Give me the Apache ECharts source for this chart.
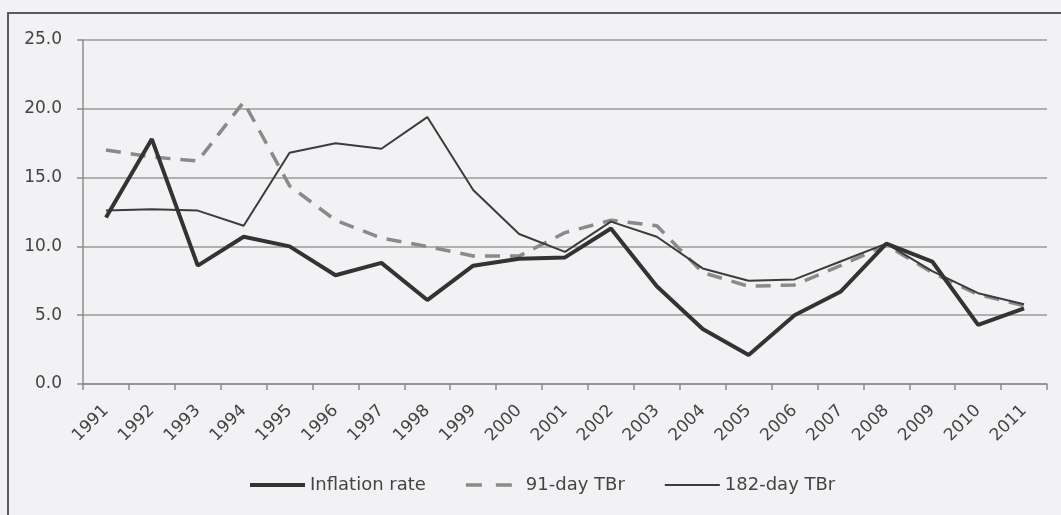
<!DOCTYPE html>
<html>
<head>
<meta charset="utf-8">
<script src="https://cdn.jsdelivr.net/npm/echarts@6/dist/echarts.min.js"></script>
<style>
  html, body { margin: 0; padding: 0; background: #f2f2f4; }
  #chart { width: 1061px; height: 515px; }
</style>
</head>
<body>
<div id="chart"></div>
<script>
// Years on the horizontal axis
const years = ['1991','1992','1993','1994','1995','1996','1997','1998','1999','2000',
               '2001','2002','2003','2004','2005','2006','2007','2008','2009','2010','2011'];

// Annual inflation rate (%)
const inflationRate = [12.1, 17.8, 8.6, 10.7, 10.0, 7.9, 8.8, 6.1, 8.6, 9.1,
                       9.2, 11.3, 7.1, 4.0, 2.1, 5.0, 6.7, 10.2, 8.9, 4.3, 5.5];

// 91-day Treasury bill rate (%)
const tbr91 = [17.0, 16.5, 16.2, 20.5, 14.4, 11.9, 10.6, 10.0, 9.3, 9.3,
               11.0, 11.9, 11.5, 8.1, 7.1, 7.2, 8.6, 10.1, 8.1, 6.5, 5.7];

// 182-day Treasury bill rate (%)
const tbr182 = [12.6, 12.7, 12.6, 11.5, 16.8, 17.5, 17.1, 19.4, 14.1, 10.9,
                9.6, 11.8, 10.7, 8.4, 7.5, 7.6, 8.9, 10.2, 8.2, 6.6, 5.8];

const seriesNames = ['Inflation rate', '91-day TBr', '182-day TBr'];

const textColor = '#444';
const fontFamily = '"DejaVu Sans", sans-serif';

// Legend keys: a 55x12 box (two zero-area corner points pin the box size)
const keyBox = 'M0,0L0.01,0ZM55,12L55.01,12Z';
const legendIcons = {
  'Inflation rate': 'path://' + keyBox + 'M0,4H55V8H0Z',
  '91-day TBr': 'path://' + keyBox + 'M0,4.25H16V7.75H0ZM30,4.25H46V7.75H30Z',
  '182-day TBr': 'path://' + keyBox + 'M0,5H55V7H0Z'
};

const chart = echarts.init(document.getElementById('chart'), null, { renderer: 'canvas' });

chart.setOption({
  backgroundColor: '#f2f2f4',
  animation: false,
  textStyle: { fontFamily: fontFamily, color: textColor },
  graphic: [{
    // frame around the chart area
    type: 'rect',
    silent: true,
    z: -1,
    shape: { x: 8, y: 13, width: 1120, height: 560 },
    style: { fill: 'none', stroke: '#5a5a5a', lineWidth: 2 }
  }],
  grid: { left: 83, right: 14, top: 40, bottom: 131, containLabel: false },
  legend: {
    data: seriesNames.map(n => ({ name: n, icon: legendIcons[n] })),
    top: 476,
    left: 250,
    padding: 0,
    itemWidth: 55,
    itemHeight: 12,
    itemGap: 40,
    itemStyle: { borderWidth: 0 },
    textStyle: { fontSize: 18, color: textColor, fontFamily: fontFamily }
  },
  xAxis: {
    type: 'category',
    data: years,
    boundaryGap: true,
    axisLine: { lineStyle: { color: '#8c8c8c', width: 1.5 } },
    axisTick: { show: true, interval: 0, length: 6, lineStyle: { color: '#8c8c8c', width: 1.5 } },
    axisLabel: { interval: 0, rotate: 45, margin: 24, fontSize: 17, color: textColor, fontFamily: fontFamily },
    splitLine: { show: false }
  },
  yAxis: {
    type: 'value',
    min: 0,
    max: 25,
    interval: 5,
    axisLine: { show: true, lineStyle: { color: '#8c8c8c', width: 1.5 } },
    axisTick: { show: true, length: 6, lineStyle: { color: '#8c8c8c', width: 1.5 } },
    axisLabel: {
      margin: 21, fontSize: 17, color: textColor, fontFamily: fontFamily,
      formatter: v => v.toFixed(1)
    },
    splitLine: { show: true, lineStyle: { color: '#9a9a9a', width: 1.5 } }
  },
  series: [
    {
      name: 'Inflation rate',
      type: 'line',
      data: inflationRate,
      symbol: 'none',
      z: 4,
      lineStyle: { color: '#333333', width: 4 },
      itemStyle: { color: '#333333' }
    },
    {
      name: '91-day TBr',
      type: 'line',
      data: tbr91,
      symbol: 'none',
      z: 2,
      lineStyle: { color: '#8a8a8a', width: 3.5, type: [15, 10] },
      itemStyle: { color: '#8a8a8a' }
    },
    {
      name: '182-day TBr',
      type: 'line',
      data: tbr182,
      symbol: 'none',
      z: 3,
      lineStyle: { color: '#3c3c3c', width: 2 },
      itemStyle: { color: '#3c3c3c' }
    }
  ]
});
</script>
</body>
</html>
